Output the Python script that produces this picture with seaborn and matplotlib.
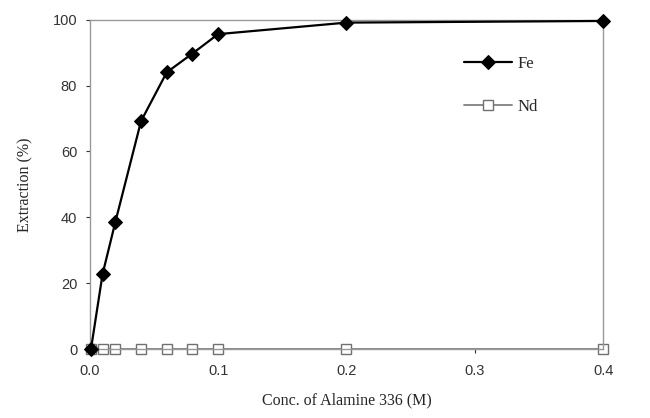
import numpy as np
import pandas as pd
import seaborn as sns
import matplotlib.pyplot as plt

# Data
fe_conc = [0.001, 0.01, 0.02, 0.04, 0.06, 0.08, 0.10, 0.20, 0.40]
fe_ext = [0.0, 22.7, 38.6, 69.2, 84.0, 89.7, 95.6, 99.1, 99.6]
nd_conc = [0.001, 0.01, 0.02, 0.04, 0.06, 0.08, 0.10, 0.20, 0.40]
nd_ext = [0.0, 0.0, 0.0, 0.0, 0.0, 0.0, 0.0, 0.0, 0.0]

fe = pd.DataFrame({'conc': fe_conc, 'ext': fe_ext})
nd = pd.DataFrame({'conc': nd_conc, 'ext': nd_ext})

sns.set_style('white')
plt.rcParams['font.family'] = ['Liberation Sans', 'DejaVu Sans']

fig = plt.figure(figsize=(6.5, 4.18), dpi=100)
ax = fig.add_axes([0.138, 0.165, 0.79, 0.788])

sns.lineplot(data=nd, x='conc', y='ext', ax=ax, color='#808080', lw=1.3,
             marker='s', markersize=6.5, markerfacecolor='white',
             markeredgecolor='#707070', markeredgewidth=1.0, label='Nd',
             zorder=2, clip_on=False)
sns.lineplot(data=fe, x='conc', y='ext', ax=ax, color='black', lw=1.6,
             marker='D', markersize=7, markerfacecolor='black',
             markeredgecolor='black', label='Fe', zorder=3, clip_on=False)

ax.set_xlim(0, 0.4)
ax.set_ylim(0, 100)
ax.set_xticks([0.0, 0.1, 0.2, 0.3, 0.4])
ax.set_xticklabels(['0.0', '0.1', '0.2', '0.3', '0.4'])
ax.set_yticks([0, 20, 40, 60, 80, 100])
ax.tick_params(axis='both', labelsize=10.5, colors='#333333', direction='out',
               length=3, width=0.8, pad=6)
ax.tick_params(axis='x', bottom=True, pad=8)
ax.tick_params(axis='y', left=True)

for s in ax.spines.values():
    s.set_color('#999999')
    s.set_linewidth(1.0)

serif = ['Liberation Serif', 'DejaVu Serif']
ax.set_xlabel('Conc. of Alamine 336 (M)', fontsize=11.5, family=serif, labelpad=10)
ax.set_ylabel('Extraction (%)', fontsize=11.5, family=serif, labelpad=14)

handles, labels = ax.get_legend_handles_labels()
order = [labels.index('Fe'), labels.index('Nd')]
leg = ax.legend([handles[i] for i in order], [labels[i] for i in order],
                loc='upper left', bbox_to_anchor=(0.70, 0.935), frameon=False,
                prop={'family': serif, 'size': 12}, handlelength=2.9,
                labelspacing=1.6, handletextpad=0.3)

fig.savefig('out.png', dpi=100)
